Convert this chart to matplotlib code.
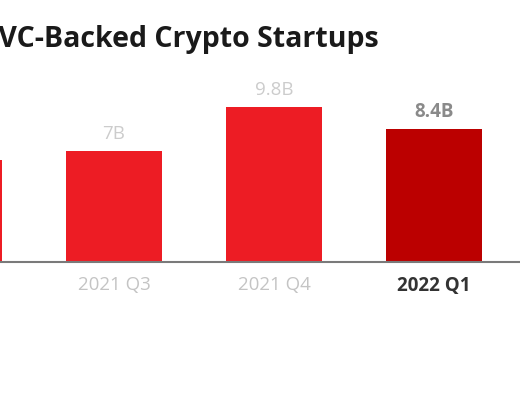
import matplotlib.pyplot as plt

quarters = ["2021 Q2", "2021 Q3", "2021 Q4", "2022 Q1"]
funding = [6.4, 7.0, 9.8, 8.4]
value_labels = ["6.4B", "7B", "9.8B", "8.4B"]

plt.rcParams['font.family'] = ['Open Sans', 'DejaVu Sans']

fig = plt.figure(figsize=(5.2, 4), dpi=100)
ax = fig.add_axes([0, 0.345, 1, 0.655])

x = list(range(len(quarters)))
colors = ['#ed1c24'] * (len(quarters) - 1) + ['#bb0000']
ax.bar(x, funding, width=0.6, color=colors)

# latest quarter is highlighted, the rest are muted
for i, (val, lab) in enumerate(zip(funding, value_labels)):
    last = i == len(quarters) - 1
    ax.text(i, val + 0.75, lab, ha='center', va='baseline',
            fontsize=13.5, fontweight='bold' if last else 'normal',
            color='#8a8a8a' if last else '#cccccc')

ax.set_xticks(x)
ax.set_xticklabels(quarters)
ax.set_xlim(0.2875, 3.5375)
ax.set_ylim(0, 16.52)
for i, t in enumerate(ax.get_xticklabels()):
    last = i == len(quarters) - 1
    t.set_fontsize(13.5)
    t.set_color('#333333' if last else '#c4c4c4')
    t.set_fontweight('bold' if last else 'normal')
ax.tick_params(axis='x', length=0, pad=10)
ax.set_yticks([])

for side in ['top', 'right', 'left']:
    ax.spines[side].set_visible(False)
ax.spines['bottom'].set_color('#7a7a7a')
ax.spines['bottom'].set_linewidth(1.5)

fig.text(379 / 520, 1 - 40 / 400, "Funding to VC-Backed Crypto Startups",
         ha='right', va='center', fontsize=20.5, fontweight='bold', color='#1a1a1a')

fig.savefig('out.png', dpi=100)
